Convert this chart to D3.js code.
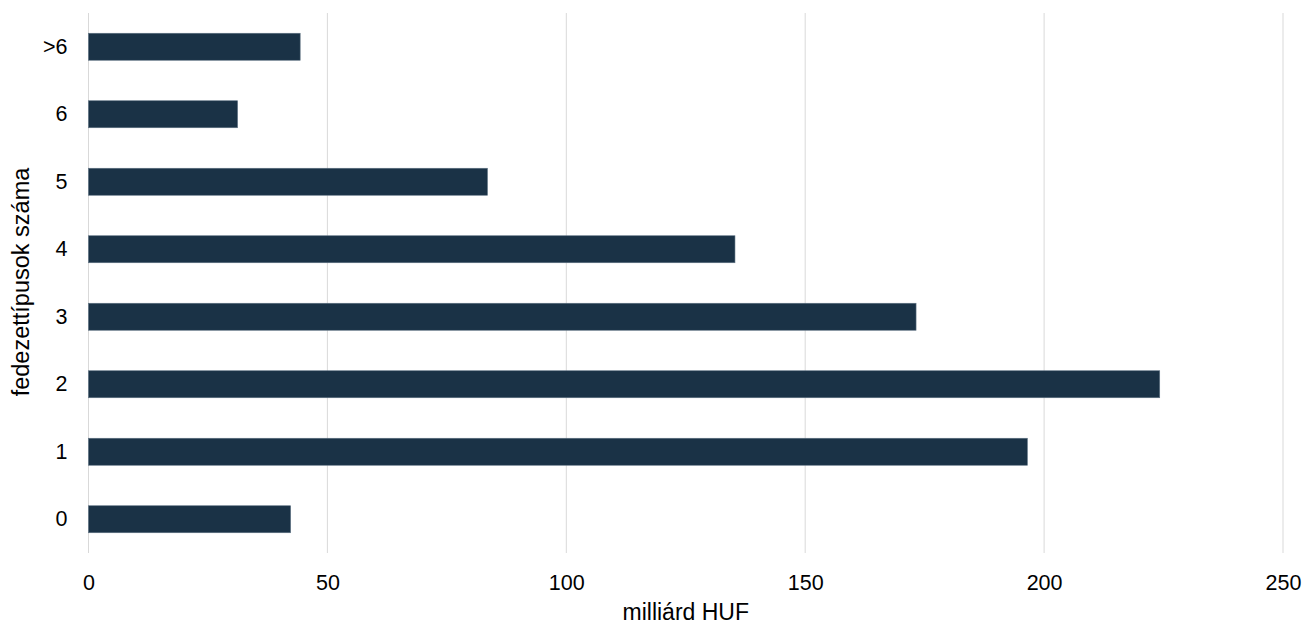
<!DOCTYPE html>
<html><head><meta charset="utf-8">
<script src="https://cdn.jsdelivr.net/npm/d3@7"></script>
<style>body{margin:0;background:#fff}text{font-family:"Liberation Sans",Arial,sans-serif;fill:#000}</style>
</head><body>
<svg id="c" width="1304" height="625"></svg>
<script>
const categories = [">6","6","5","4","3","2","1","0"];
const values = [44.3, 31.2, 83.5, 135.3, 173.2, 224.2, 196.5, 42.3];
const xTicks = [0,50,100,150,200,250];
const xTitle = "milliárd HUF";
const yTitle = "fedezettípusok száma";

(function(){
const svg = d3.select("#c");
const mLeft = 88.5, mRight = 1283, mTop = 13, mBottom = 553;
const x = d3.scaleLinear().domain([0,250]).range([mLeft,mRight]);
const y = d3.scaleBand().domain(categories).range([mTop,mBottom]).paddingInner(0.6).paddingOuter(0.3);

svg.append("g").selectAll("line").data(xTicks).join("line")
  .attr("x1",d=>x(d)).attr("x2",d=>x(d)).attr("y1",mTop).attr("y2",mBottom)
  .attr("stroke","#d9d9d9").attr("stroke-width",1);

svg.append("g").selectAll("rect").data(categories).join("rect")
  .attr("x",x(0)).attr("y",d=>y(d)).attr("height",y.bandwidth())
  .attr("width",(d,i)=>x(values[i])-x(0))
  .attr("fill","#1a3246").attr("stroke","#5d7182").attr("stroke-width",0.6);

const xa = svg.append("g").attr("transform",`translate(0,${mBottom})`)
  .call(d3.axisBottom(x).tickValues(xTicks).tickSize(0).tickPadding(22));
xa.select(".domain").remove();
xa.selectAll("text").attr("font-size",21.5).style("font-family","'Liberation Sans',Arial,sans-serif").attr("fill","#000");

const ya = svg.append("g").attr("transform",`translate(${mLeft},0)`)
  .call(d3.axisLeft(y).tickSize(0).tickPadding(21));
ya.select(".domain").remove();
ya.selectAll("text").attr("font-size",21.5).style("font-family","'Liberation Sans',Arial,sans-serif").attr("fill","#000");

svg.append("text").attr("x",(mLeft+mRight)/2).attr("y",620).attr("text-anchor","middle")
  .attr("font-size",23).text(xTitle);
svg.append("text").attr("transform",`translate(29,${(mTop+mBottom)/2 - 1}) rotate(-90)`)
  .attr("text-anchor","middle").attr("font-size",23.5).text(yTitle);
})();
</script>
</body></html>
